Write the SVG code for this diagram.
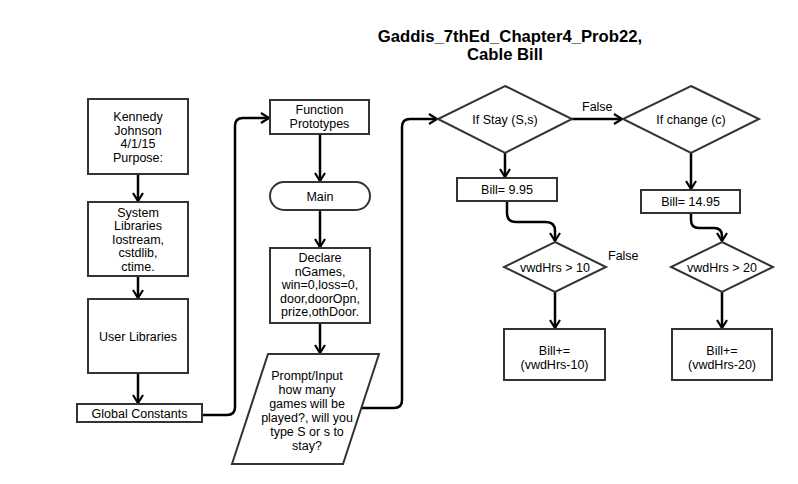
<svg xmlns="http://www.w3.org/2000/svg" width="798" height="484" viewBox="0 0 798 484">
<style>
.n{fill:#fff;stroke:#333;stroke-width:2}
.t{font-family:"Liberation Sans",Arial,sans-serif;font-size:12.5px;fill:#000;text-anchor:middle}
.c{fill:none;stroke:#000;stroke-width:2.5;marker-end:url(#ah)}
.title{font-family:"Liberation Sans",Arial,sans-serif;font-size:16.7px;font-weight:bold;text-anchor:middle;fill:#000}
.lbl{font-family:"Liberation Sans",Arial,sans-serif;font-size:12.5px;fill:#000}
</style>
<defs>
<marker id="ah" markerUnits="userSpaceOnUse" markerWidth="12" markerHeight="14" refX="9" refY="6" orient="auto">
<path d="M1,1 L9,6 L1,11" fill="none" stroke="#000" stroke-width="2.2"/>
</marker>
</defs>
<rect width="798" height="484" fill="#fff"/>
<g id="title">
<text class="title" x="510" y="42">Gaddis_7thEd_Chapter4_Prob22,</text>
<text class="title" x="505" y="60">Cable Bill</text>
</g>
<g id="connectors">
<path class="c" d="M138,174 L138,201"/>
<path class="c" d="M138,276 L138,298"/>
<path class="c" d="M138,373 L138,403"/>
<path class="c" d="M202,415 L227,415 Q235,415 235,407 L235,126 Q235,118 243,118 L269,118"/>
<path class="c" d="M320,134 L320,181"/>
<path class="c" d="M320,210 L320,247"/>
<path class="c" d="M320,323 L320,353"/>
<path class="c" d="M361,408 L394,408 Q402,408 402,400 L402,127 Q402,119 410,119 L437,119"/>
<path class="c" d="M572,119 L622,119"/>
<path class="c" d="M505,153 L505,177"/>
<path class="c" d="M691,153 L691,189"/>
<path class="c" d="M507,201 L507,213 Q507,222 516,222 L546,222 Q555,222 555,231 L555,241"/>
<path class="c" d="M691,213 L691,220 Q691,228 699,228 L714,228 Q722,228 722,236 L722,241"/>
<path class="c" d="M555,292 L555,328"/>
<path class="c" d="M722,292 L722,328"/>
<text class="lbl" x="582" y="111">False</text>
<text class="lbl" x="608" y="260">False</text>
</g>
<g id="header">
<rect class="n" x="88" y="99" width="100" height="75"/>
<text class="t" x="138" y="121">Kennedy</text>
<text class="t" x="138" y="134.5">Johnson</text>
<text class="t" x="138" y="148">4/1/15</text>
<text class="t" x="138" y="161.5">Purpose:</text>
</g>
<g id="syslibs">
<rect class="n" x="88" y="202" width="100" height="74"/>
<text class="t" x="138" y="216.5">System</text>
<text class="t" x="138" y="230">Libraries</text>
<text class="t" x="138" y="243.5">Iostream,</text>
<text class="t" x="138" y="257">cstdlib,</text>
<text class="t" x="138" y="270.5">ctime.</text>
</g>
<g id="userlibs">
<rect class="n" x="88" y="299" width="100" height="74"/>
<text class="t" x="138" y="340.5">User Libraries</text>
</g>
<g id="globals">
<rect class="n" x="77" y="404" width="125" height="18"/>
<text class="t" x="139.5" y="417.5">Global Constants</text>
</g>
<g id="prototypes">
<rect class="n" x="270" y="100" width="99" height="34"/>
<text class="t" x="319.5" y="114">Function</text>
<text class="t" x="319.5" y="128">Prototypes</text>
</g>
<g id="main">
<rect class="n" x="270" y="182" width="100" height="28" rx="14" ry="14"/>
<text class="t" x="320" y="200.5">Main</text>
</g>
<g id="declare">
<rect class="n" x="270" y="248" width="100" height="75"/>
<text class="t" x="320" y="262">Declare</text>
<text class="t" x="320" y="275.5">nGames,</text>
<text class="t" x="320" y="289">win=0,loss=0,</text>
<text class="t" x="320" y="302.5">door,doorOpn,</text>
<text class="t" x="320" y="316">prize,othDoor.</text>
</g>
<g id="prompt">
<polygon class="n" points="268,354 379,354 343,464 232,464"/>
<text class="t" x="307" y="379.5">Prompt/Input</text>
<text class="t" x="307" y="393.5">how many</text>
<text class="t" x="307" y="407.5">games will be</text>
<text class="t" x="307" y="421.5">played?, will you</text>
<text class="t" x="307" y="435.5">type S or s to</text>
<text class="t" x="307" y="449.5">stay?</text>
</g>
<g id="ifstay">
<polygon class="n" points="505,86 572,119 505,153 438,119"/>
<text class="t" x="505" y="123.5">If Stay (S,s)</text>
</g>
<g id="bill995">
<rect class="n" x="457" y="178" width="100" height="23"/>
<text class="t" x="507" y="194">Bill= 9.95</text>
</g>
<g id="hrs10">
<polygon class="n" points="555,242 606,267 555,292 504,267"/>
<text class="t" x="555" y="271.5">vwdHrs &gt; 10</text>
</g>
<g id="add10">
<rect class="n" x="504" y="329" width="101" height="51"/>
<text class="t" x="554.5" y="354.5">Bill+=</text>
<text class="t" x="554.5" y="368.5">(vwdHrs-10)</text>
</g>
<g id="ifchange">
<polygon class="n" points="691,86 759,119 691,153 623,119"/>
<text class="t" x="691" y="123.5">If change (c)</text>
</g>
<g id="bill1495">
<rect class="n" x="641" y="190" width="99" height="23"/>
<text class="t" x="690.5" y="206">Bill= 14.95</text>
</g>
<g id="hrs20">
<polygon class="n" points="722,242 773,267 722,292 671,267"/>
<text class="t" x="722" y="271.5">vwdHrs &gt; 20</text>
</g>
<g id="add20">
<rect class="n" x="672" y="329" width="100" height="51"/>
<text class="t" x="722" y="354.5">Bill+=</text>
<text class="t" x="722" y="368.5">(vwdHrs-20)</text>
</g>
</svg>
